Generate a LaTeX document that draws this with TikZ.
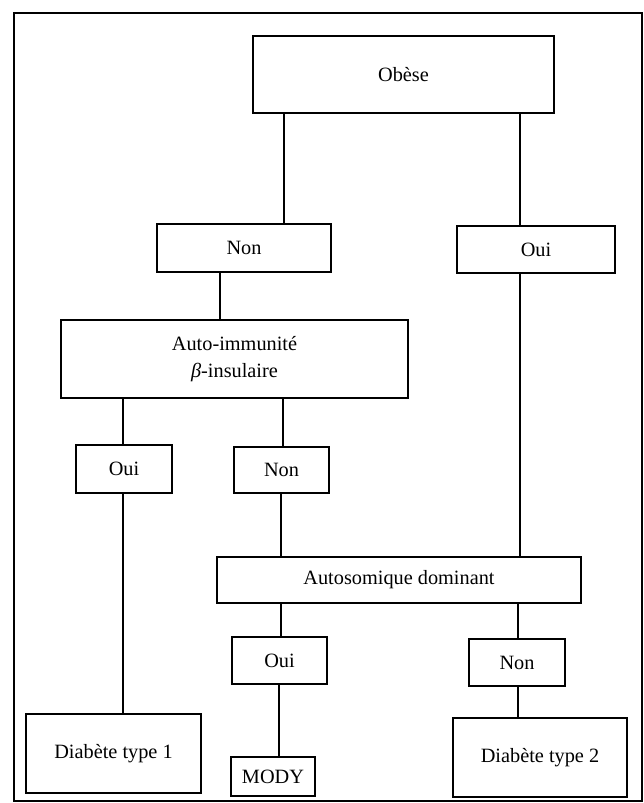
\documentclass[tikz,border=0pt]{standalone}
\usepackage{fontspec}
\setmainfont{Liberation Serif}
\begin{document}
\begin{tikzpicture}[x=1pt,y=1pt,
  boxst/.style={draw, line width=1.3pt, rectangle, inner sep=0pt, align=center,
    font=\fontsize{20.3}{27}\selectfont},
  link/.style={line width=1.3pt}]
\useasboundingbox (0,0) rectangle (644,-803);
\draw[line width=1.8pt] (14,-13) rectangle (642,-801);
% boxes
\node[boxst, minimum width=301, minimum height=77] (obese) at (403.5,-74.5) {Obèse};
\node[boxst, minimum width=174, minimum height=48] (non1) at (244,-248) {Non};
\node[boxst, minimum width=158, minimum height=47] (oui1) at (536,-249.5) {Oui};
\node[boxst, minimum width=347, minimum height=78] (auto) at (234.5,-359) {Auto-immunité\\\textit{β}-insulaire};
\node[boxst, minimum width=96, minimum height=48] (oui2) at (124,-469) {Oui};
\node[boxst, minimum width=95, minimum height=46] (non2) at (281.5,-470) {Non};
\node[boxst, minimum width=364, minimum height=46] (autosom) at (399,-580) {Autosomique dominant};
\node[boxst, minimum width=95, minimum height=47] (oui3) at (279.5,-660.5) {Oui};
\node[boxst, minimum width=96, minimum height=47] (non3) at (517,-662.5) {Non};
\node[boxst, minimum width=175, minimum height=79] (d1) at (113.5,-753.5) {Diabète type 1};
\node[boxst, minimum width=84, minimum height=39] (mody) at (273,-776.5) {MODY};
\node[boxst, minimum width=174, minimum height=79] (d2) at (540,-757.5) {Diabète type 2};
% column coordinates
\coordinate (cA) at (284,0);
\coordinate (cB) at (520,0);
\coordinate (cC) at (220,0);
\coordinate (cD) at (123,0);
\coordinate (cE) at (283,0);
\coordinate (cF) at (281,0);
\coordinate (cG) at (279,0);
\coordinate (cH) at (518,0);
% connectors
\draw[link] (obese.south -| cA) -- (non1.north -| cA);
\draw[link] (obese.south -| cB) -- (oui1.north -| cB);
\draw[link] (non1.south -| cC) -- (auto.north -| cC);
\draw[link] (auto.south -| cD) -- (oui2.north -| cD);
\draw[link] (auto.south -| cE) -- (non2.north -| cE);
\draw[link] (oui2.south -| cD) -- (d1.north -| cD);
\draw[link] (non2.south -| cF) -- (autosom.north -| cF);
\draw[link] (oui1.south -| cB) -- (autosom.north -| cB);
\draw[link] (autosom.south -| cF) -- (oui3.north -| cF);
\draw[link] (autosom.south -| cH) -- (non3.north -| cH);
\draw[link] (oui3.south -| cG) -- (mody.north -| cG);
\draw[link] (non3.south -| cH) -- (d2.north -| cH);
\end{tikzpicture}
\end{document}
